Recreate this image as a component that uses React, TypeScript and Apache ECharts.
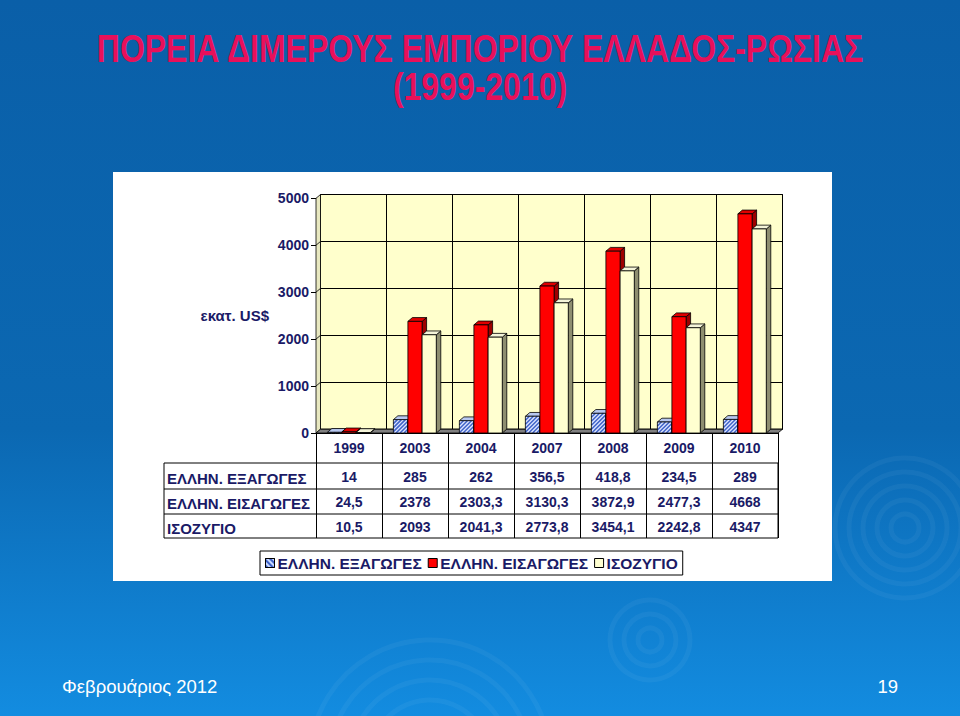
import React, { useEffect, useRef } from 'react';
import * as echarts from 'echarts';

// values (million US$)
const years = ['1999', '2003', '2004', '2007', '2008', '2009', '2010'];
const greekExports = [14, 285, 262, 356.5, 418.8, 234.5, 289];
const greekImports = [24.5, 2378, 2303.3, 3130.3, 3872.9, 2477.3, 4668];
const tradeBalance = [10.5, 2093, 2041.3, 2773.8, 3454.1, 2242.8, 4347];
const seriesNames = ['ΕΛΛΗΝ. ΕΞΑΓΩΓΕΣ', 'ΕΛΛΗΝ. ΕΙΣΑΓΩΓΕΣ', 'ΙΣΟΖΥΓΙΟ'];
const yMax = 5000;
const yStep = 1000;

const NAVY = '#1a1a66';
const FONT = "'Liberation Sans', Arial, sans-serif";
const DX = 4.5;
const DY = 3.8;

const comma = (v: number) => String(v).replace('.', ',');

function hatchLines(x: number, y: number, w: number, h: number, step: number) {
  const out: any[] = [];
  for (let k = -h; k < w; k += step) {
    const t0 = Math.max(0, -k);
    const t1 = Math.min(h, w - k);
    if (t1 <= t0) continue;
    out.push({
      type: 'line',
      shape: { x1: x + k + t0, y1: y + h - t0, x2: x + k + t1, y2: y + h - t1 },
      style: { stroke: '#3f63c8', lineWidth: 1.5 },
    });
  }
  return out;
}

function barRenderer(offset: number, front: string, top: string, side: string, hatched: boolean) {
  return (_params: any, api: any) => {
    const i = api.value(0);
    const v = api.value(1);
    const base = api.coord([i, 0]);
    const peak = api.coord([i, v]);
    const band = api.size([1, 0])[0];
    const w = band * 0.215;
    const x = base[0] + offset * band - w / 2;
    const y0 = base[1];
    const y1 = peak[1];
    const h = y0 - y1;
    const edge = { stroke: '#000', lineWidth: 0.8 };
    const children: any[] = [
      {
        type: 'polygon',
        shape: { points: [[x + w, y1], [x + w + DX, y1 - DY], [x + w + DX, y0 - DY], [x + w, y0]] },
        style: { fill: side, ...edge },
      },
      {
        type: 'polygon',
        shape: { points: [[x, y1], [x + w, y1], [x + w + DX, y1 - DY], [x + DX, y1 - DY]] },
        style: { fill: top, ...edge },
      },
      { type: 'rect', shape: { x, y: y1, width: w, height: h }, style: { fill: front } },
    ];
    if (hatched) children.push(...hatchLines(x, y1, w, h, 4));
    children.push({
      type: 'rect',
      shape: { x, y: y1, width: w, height: h },
      style: { fill: 'none', ...edge },
    });
    return { type: 'group', children };
  };
}

function floorRenderer(_params: any, api: any) {
  const band = api.size([1, 0])[0];
  const L = api.coord([0, 0])[0] - band / 2;
  const R = api.coord([years.length - 1, 0])[0] + band / 2;
  const y0 = api.coord([0, 0])[1];
  const yT = api.coord([0, yMax])[1];
  const children: any[] = [
    {
      type: 'polygon',
      shape: { points: [[L, y0], [L, yT], [L + DX, yT - DY], [L + DX, y0 - DY]] },
      style: { fill: '#e8e8c0', stroke: '#000', lineWidth: 0.8 },
    },
    {
      type: 'polygon',
      shape: { points: [[L, y0], [R, y0], [R + DX, y0 - DY], [L + DX, y0 - DY]] },
      style: { fill: '#808080', stroke: '#000', lineWidth: 0.8 },
    },
  ];
  for (let t = yStep; t < yMax; t += yStep) {
    const yy = api.coord([0, t])[1];
    children.push({
      type: 'line',
      shape: { x1: L, y1: yy, x2: L + DX, y2: yy - DY },
      style: { stroke: '#000', lineWidth: 0.8 },
    });
  }
  return { type: 'group', children };
}

function rings(cx: number, cy: number, radii: number[]) {
  return radii.map((r) => ({
    type: 'circle',
    z: -20,
    shape: { cx, cy, r },
    style: { fill: 'none', stroke: 'rgba(255,255,255,0.045)', lineWidth: 5 },
  }));
}

export default function App() {
  const ref = useRef<HTMLDivElement>(null);

  useEffect(() => {
    if (!ref.current) return;
    const chart = echarts.init(ref.current, undefined, { renderer: 'svg' });

    const label = { color: NAVY, fontSize: 14, fontWeight: 'bold', fontFamily: FONT };
    const tableRows = [greekExports, greekImports, tradeBalance];
    const rowCenters = [478, 503, 528];

    const tableAxes = tableRows.map((row, r) => ({
      type: 'category',
      gridIndex: 0,
      position: 'bottom',
      offset: rowCenters[r] - 433 - 8,
      data: years,
      axisLine: { show: false },
      axisTick: { show: false },
      splitLine: { show: false },
      axisLabel: {
        ...label,
        interval: 0,
        margin: 0,
        formatter: (_v: string, idx: number) => comma(row[idx]),
      },
    }));

    const rowTitles = seriesNames.map((name, r) => ({
      type: 'text',
      z: 5,
      x: 167,
      y: rowCenters[r],
      style: { text: name, font: `bold 15px ${FONT}`, fill: NAVY, textAlign: 'left', textVerticalAlign: 'middle' },
    }));

    const option: any = {
      animation: false,
      backgroundColor: {
        type: 'linear',
        x: 0,
        y: 0,
        x2: 0,
        y2: 1,
        colorStops: [
          { offset: 0, color: '#0a5fa8' },
          { offset: 0.6, color: '#0b68b2' },
          { offset: 1, color: '#138ce0' },
        ],
      },
      grid: [
        { left: 316, top: 198.3, width: 462, height: 234.7 },
        {
          left: 316 + DX,
          top: 198.3 - DY,
          width: 462,
          height: 234.7,
          show: true,
          backgroundColor: '#ffffcc',
          borderColor: '#000',
          borderWidth: 1,
        },
      ],
      xAxis: [
        {
          type: 'category',
          gridIndex: 0,
          data: years,
          axisLine: { show: true, lineStyle: { color: '#000', width: 1 } },
          axisTick: { show: true, interval: 0, length: 105, lineStyle: { color: '#000', width: 1 } },
          axisLabel: { ...label, interval: 0, margin: 8 },
          splitLine: { show: false },
        },
        {
          type: 'category',
          gridIndex: 1,
          data: years,
          axisLine: { show: false },
          axisTick: { show: false },
          axisLabel: { show: false },
          splitLine: { show: true, interval: 0, lineStyle: { color: '#000', width: 1 } },
        },
        ...tableAxes,
      ],
      yAxis: [
        {
          type: 'value',
          gridIndex: 0,
          min: 0,
          max: yMax,
          interval: yStep,
          name: 'εκατ. US$',
          nameLocation: 'middle',
          nameRotate: 0,
          nameGap: 47,
          nameTextStyle: { ...label, fontSize: 15 },
          axisLine: { show: true, lineStyle: { color: '#000', width: 1 } },
          axisTick: { show: true, length: 5, lineStyle: { color: '#000' } },
          axisLabel: { ...label, margin: 7, formatter: (v: number) => String(v) },
          splitLine: { show: false },
        },
        {
          type: 'value',
          gridIndex: 1,
          min: 0,
          max: yMax,
          interval: yStep,
          axisLine: { show: false },
          axisTick: { show: false },
          axisLabel: { show: false },
          splitLine: { show: true, lineStyle: { color: '#000', width: 1 } },
        },
      ],
      legend: {
        left: 260,
        top: 551,
        orient: 'horizontal',
        padding: [4, 5],
        itemGap: 6,
        itemWidth: 9,
        itemHeight: 9,
        backgroundColor: '#fff',
        borderColor: '#000',
        borderWidth: 1,
        borderRadius: 0,
        textStyle: { color: NAVY, fontSize: 15.5, fontWeight: 'bold', fontFamily: FONT, padding: [0, 0, 0, -2] },
        data: [
          {
            name: seriesNames[0],
            icon: 'rect',
            itemStyle: {
              color: '#c8d8ff',
              borderColor: '#000',
              borderWidth: 1,
              decal: { symbol: 'rect', dashArrayX: [1, 0], dashArrayY: [2, 2], rotation: Math.PI / 4, color: '#3f63c8' },
            },
          },
          { name: seriesNames[1], icon: 'rect', itemStyle: { color: '#ff0000', borderColor: '#000', borderWidth: 1 } },
          { name: seriesNames[2], icon: 'rect', itemStyle: { color: '#ffffd0', borderColor: '#000', borderWidth: 1 } },
        ],
      },
      series: [
        {
          type: 'custom',
          name: 'floor',
          xAxisIndex: 0,
          yAxisIndex: 0,
          z: 1,
          silent: true,
          data: [[0, 0]],
          renderItem: floorRenderer,
        },
        {
          type: 'custom',
          name: seriesNames[0],
          xAxisIndex: 0,
          yAxisIndex: 0,
          z: 3,
          itemStyle: { color: '#c8d8ff' },
          encode: { x: 0, y: 1 },
          data: greekExports.map((v, i) => [i, v]),
          renderItem: barRenderer(-0.22, '#dde6ff', '#b8c8f0', '#5068a8', true),
        },
        {
          type: 'custom',
          name: seriesNames[1],
          xAxisIndex: 0,
          yAxisIndex: 0,
          z: 4,
          itemStyle: { color: '#ff0000' },
          encode: { x: 0, y: 1 },
          data: greekImports.map((v, i) => [i, v]),
          renderItem: barRenderer(0, '#ff0000', '#e00000', '#9e0000', false),
        },
        {
          type: 'custom',
          name: seriesNames[2],
          xAxisIndex: 0,
          yAxisIndex: 0,
          z: 5,
          itemStyle: { color: '#ffffd0' },
          encode: { x: 0, y: 1 },
          data: tradeBalance.map((v, i) => [i, v]),
          renderItem: barRenderer(0.215, '#ffffd0', '#f4f4d8', '#8e8e70', false),
        },
      ],
      graphic: [
        ...rings(905, 528, [14, 28, 42, 56, 70]),
        ...rings(650, 640, [12, 26, 40]),
        ...rings(430, 760, [20, 40, 60, 80, 100, 120]),
        { type: 'rect', z: -10, shape: { x: 113, y: 172, width: 719, height: 409 }, style: { fill: '#fff' } },
        {
          type: 'rect',
          z: 5,
          shape: { x: 164, y: 463, width: 614, height: 75 },
          style: { fill: 'none', stroke: '#000', lineWidth: 1 },
        },
        { type: 'line', z: 5, shape: { x1: 164, y1: 489, x2: 778, y2: 489 }, style: { stroke: '#000', lineWidth: 1 } },
        { type: 'line', z: 5, shape: { x1: 164, y1: 514, x2: 778, y2: 514 }, style: { stroke: '#000', lineWidth: 1 } },
        ...rowTitles,
        {
          type: 'text',
          z: 6,
          x: 480,
          y: 68,
          scaleX: 0.82,
          style: {
            text: 'ΠΟΡΕΙΑ ΔΙΜΕΡΟΥΣ ΕΜΠΟΡΙΟΥ ΕΛΛΑΔΟΣ-ΡΩΣΙΑΣ\n(1999-2010)',
            font: `bold 39px ${FONT}`,
            lineHeight: 38,
            fill: '#e8105a',
            textAlign: 'center',
            textVerticalAlign: 'middle',
            textShadowColor: '#1b1f3a',
            textShadowOffsetX: 2.5,
            textShadowOffsetY: 2.5,
            textShadowBlur: 0,
          },
        },
        {
          type: 'text',
          z: 6,
          x: 62,
          y: 686,
          style: {
            text: 'Φεβρουάριος 2012',
            font: `18.5px ${FONT}`,
            fill: '#fff',
            textAlign: 'left',
            textVerticalAlign: 'middle',
            textShadowColor: '#1b1f3a',
            textShadowOffsetX: 1.5,
            textShadowOffsetY: 1.5,
          },
        },
        {
          type: 'text',
          z: 6,
          x: 898,
          y: 686,
          style: {
            text: '19',
            font: `18.5px ${FONT}`,
            fill: '#fff',
            textAlign: 'right',
            textVerticalAlign: 'middle',
            textShadowColor: '#1b1f3a',
            textShadowOffsetX: 1.5,
            textShadowOffsetY: 1.5,
          },
        },
      ],
    };

    chart.setOption(option);
    return () => chart.dispose();
  }, []);

  return <div ref={ref} style={{ position: 'fixed', left: 0, top: 0, width: 960, height: 716 }} />;
}
